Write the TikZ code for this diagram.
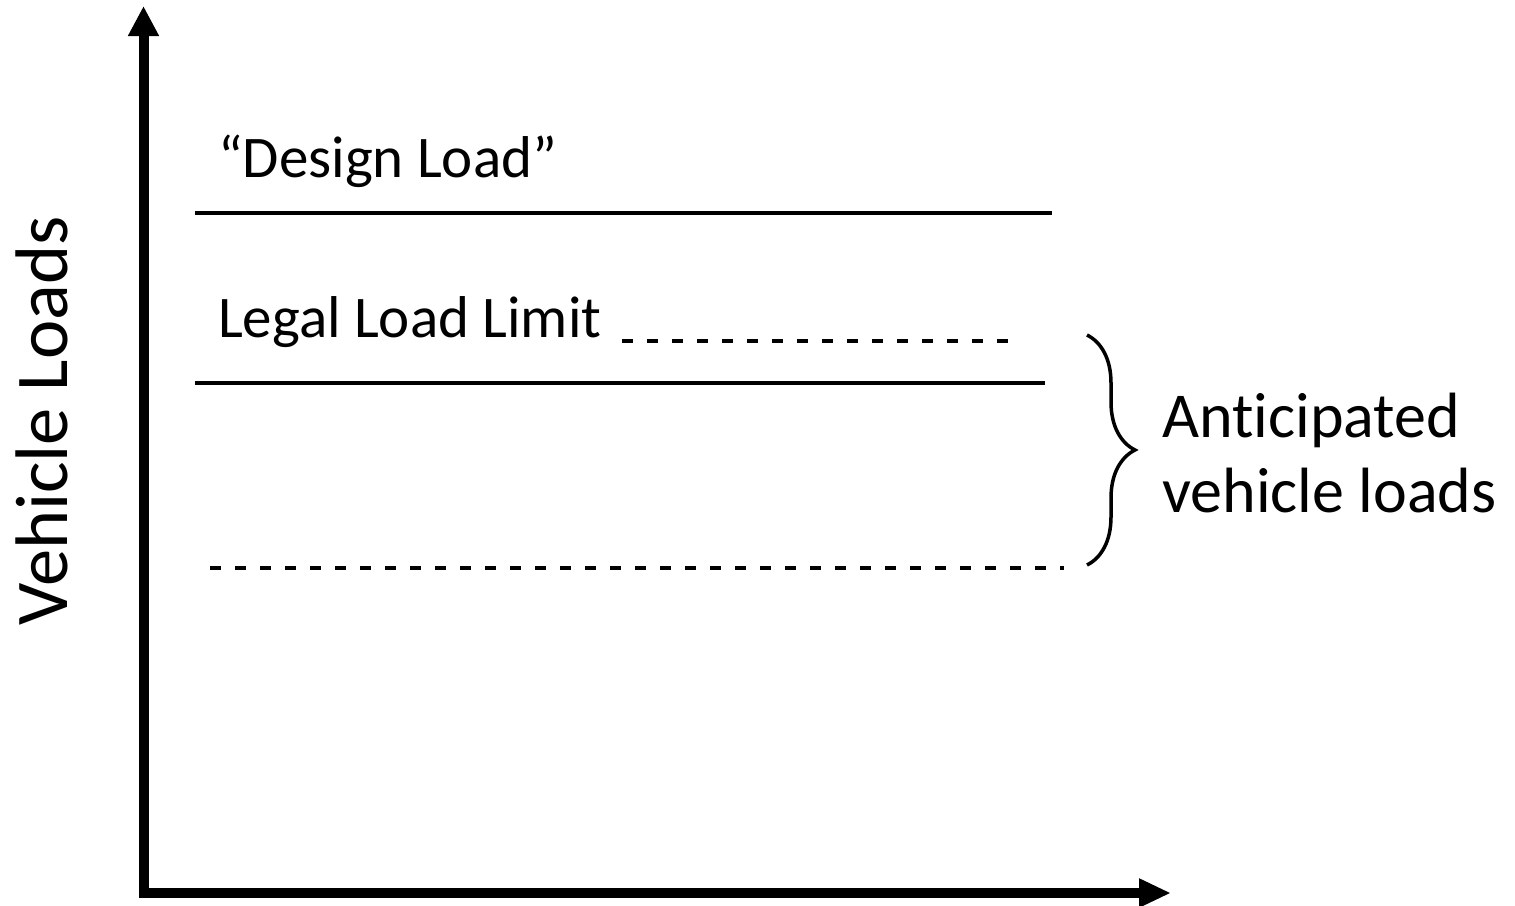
\documentclass[tikz,border=0pt]{standalone}
\usepackage{fontspec}
\setmainfont{Carlito}[Ligatures=NoCommon]
\usetikzlibrary{arrows.meta,decorations.pathreplacing}
\begin{document}
\begin{tikzpicture}[x=1pt,y=-1pt,
  axis/.style={line width=10pt,{Triangle[width=29pt,length=30pt]}-{Triangle[width=27pt,length=32pt]}},
  level/.style={line width=3.8pt},
  dashlevel/.style={line width=3.8pt,dash pattern=on 11pt off 14pt},
  lbl/.style={inner sep=0pt,anchor=base west,font=\fontsize{59}{75}\selectfont},
  bigl/.style={inner sep=0pt,anchor=base west,font=\fontsize{64}{75}\selectfont},
  bracestyle/.style={line width=3.5pt,decorate,decoration={brace,amplitude=48pt}}]
\useasboundingbox (0,0) rectangle (1515,905);
\coordinate (ytop) at (143.5,6);
\coordinate (org) at (143.5,893);
\coordinate (xend) at (1171,893);
\draw[axis] (ytop) -- (org) -- (xend);
\draw[level] (195,213) coordinate (d1) -- (1052,213) coordinate (d2);
\draw[level] (195,383) coordinate (l1) -- (1045,383) coordinate (l2);
\draw[dashlevel] (622,341) coordinate (u1) -- (1020,341) coordinate (u2);
\draw[dashlevel] (210,568) coordinate (b1) -- (1064,568) coordinate (b2);
\coordinate (bt) at (1087,335);
\coordinate (bb) at (1087,565);
\draw[bracestyle] (bt) -- (bb);
\node[lbl] (design) at (218,177) {“Design Load”};
\node[lbl] (legal) at (218,337) {Legal Load Limit};
\node[bigl] (antic) at (1162,437) {Anticipated};
\node[bigl] (antic2) at (1162,512) {vehicle loads};
\node[inner sep=0pt,anchor=base,rotate=90,font=\fontsize{74.5}{75}\selectfont] (vl) at (67,421) {Vehicle Loads};
\end{tikzpicture}
\end{document}
